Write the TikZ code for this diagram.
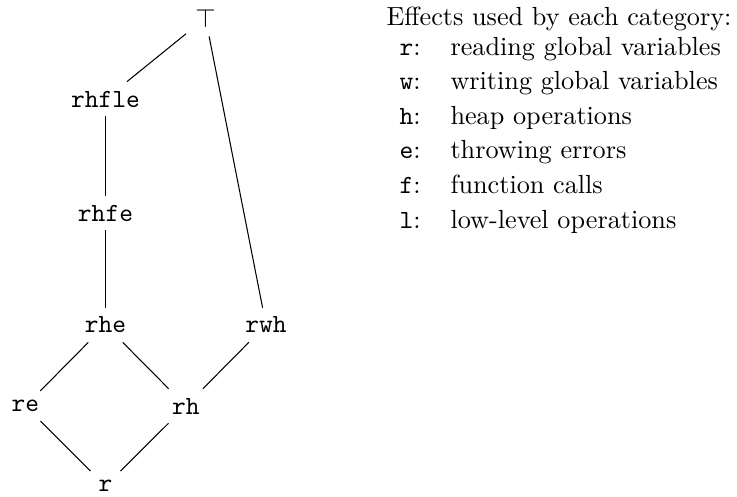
\documentclass[tikz,border=0pt]{standalone}
\begin{document}
\begin{tikzpicture}[x=0.3817pt,y=-0.3817pt,
  lat/.style={font=\ttfamily},
  key/.style={anchor=base west,font=\ttfamily,inner sep=0pt},
  desc/.style={anchor=base west,inner sep=0pt},
  edge/.style={line width=0.4pt}]
\useasboundingbox (0,0) rectangle (737,496);
% lattice
\node[lat] (top)   at (205.5,18) {$\top$};
\node[lat] (rhfle) at (105.5,99) {rhfle};
\node[lat] (rhfe)  at (105.5,213) {rhfe};
\node[lat] (rhe)   at (105.5,325) {rhe};
\node[lat] (rwh)   at (266,325) {rwh};
\node[lat] (re)    at (25.3,406) {re};
\node[lat] (rh)    at (185.8,406) {rh};
\node[lat] (r)     at (105.5,486) {r};
\draw[edge] (top) -- (rhfle);
\draw[edge] (top) -- (rwh);
\draw[edge] (rhfle) -- (rhfe);
\draw[edge] (rhfe) -- (rhe);
\draw[edge] (rhe) -- (re);
\draw[edge] (rhe) -- (rh);
\draw[edge] (rwh) -- (rh);
\draw[edge] (re) -- (r);
\draw[edge] (rh) -- (r);
% legend
\node[desc] (title) at (386,25) {Effects used by each category:};
\node[key] (kr) at (399,55)    {r\rmfamily:};
\node[key] (kw) at (399,89.6)  {w\rmfamily:};
\node[key] (kh) at (399,124.2) {h\rmfamily:};
\node[key] (ke) at (399,158.8) {e\rmfamily:};
\node[key] (kf) at (399,193.4) {f\rmfamily:};
\node[key] (kl) at (399,228)   {l\rmfamily:};
\node[desc] (dr) at (450,55)    {reading global variables};
\node[desc] (dw) at (450,89.6)  {writing global variables};
\node[desc] (dh) at (450,124.2) {heap operations};
\node[desc] (de) at (450,158.8) {throwing errors};
\node[desc] (df) at (450,193.4) {function calls};
\node[desc] (dl) at (450,228)   {low-level operations};
\end{tikzpicture}
\end{document}
